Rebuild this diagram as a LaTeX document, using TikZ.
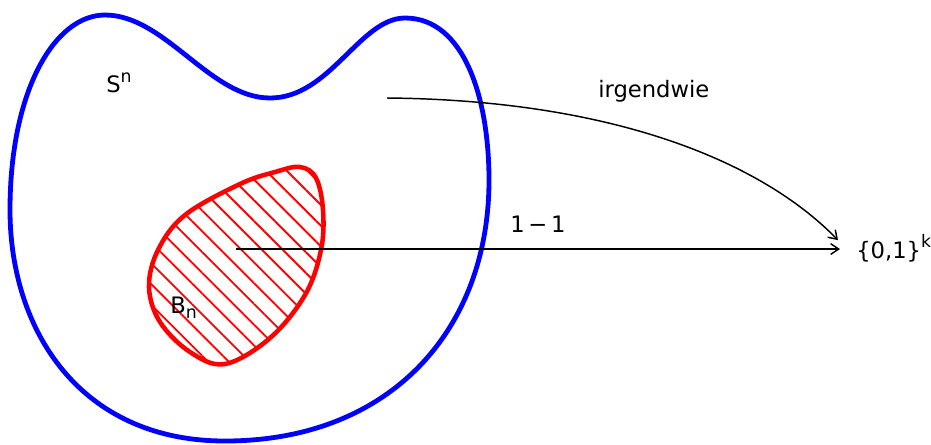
\documentclass[tikz,border=0pt]{standalone}
\usepackage{fontspec}
\setmainfont{DejaVu Sans}
\usetikzlibrary{arrows.meta,patterns.meta}
\definecolor{sphereblue}{HTML}{0000FF}
\definecolor{ballred}{HTML}{FF0000}

\begin{document}
\begin{tikzpicture}[x=0.75pt, y=-0.75pt,
  lbl/.style={font=\fontsize{17}{20}\selectfont, inner sep=0pt, anchor=base west},
  arr/.style={line width=1.1pt, -{Straight Barb[length=6pt,width=8pt]}}]
\useasboundingbox (0,0) rectangle (931,444);

% Sphere S^n (blue outline)
\draw[sphereblue, line width=3.6pt] (105,15)
  .. controls (165,15) and (210,98) .. (270,98)
  .. controls (330,98) and (360,18) .. (405,18)
  .. controls (465,18) and (489,100) .. (489,180)
  .. controls (489,330) and (390,441) .. (225,441)
  .. controls (80,441) and (10,330) .. (10,210)
  .. controls (10,90) and (55,15) .. cycle;
\node[lbl] (sphere) at (106,92) {S\raisebox{0.42em}{\fontsize{13}{15}\selectfont n}};

% Ball B_n (red, hatched)
\draw[ballred, line width=3.4pt,
  pattern={Lines[angle=-45,distance=11pt,line width=1.4pt]}, pattern color=ballred]
  plot[smooth cycle, tension=0.6] coordinates {
  (300,167) (316,178) (323,210) (321,250) (305,295) (270,338) (225,364)
  (190,352) (160,322) (149,287) (158,250) (185,215) (240,184) (275,172)};
\node[lbl] (ball) at (170,313) {B\raisebox{-0.25em}{\fontsize{13}{15}\selectfont n}};

% Target set
\node[lbl] (target) at (856,258) {\{0,1\}\raisebox{0.45em}{\fontsize{13}{15}\selectfont k}};

% Maps
\coordinate (mapstart) at (236,249);
\coordinate (curvestart) at (387,98);
\draw[arr, shorten >=12pt] (mapstart) -- (mapstart -| target.west);
\node[lbl] (inj) at (510,232) {1\,−\,1};
\draw[arr] (curvestart) .. controls (610,100) and (760,160) .. ([shift={(-18,-8)}]target.west);
\node[lbl] (any) at (598,97) {irgendwie};

\end{tikzpicture}
\end{document}
